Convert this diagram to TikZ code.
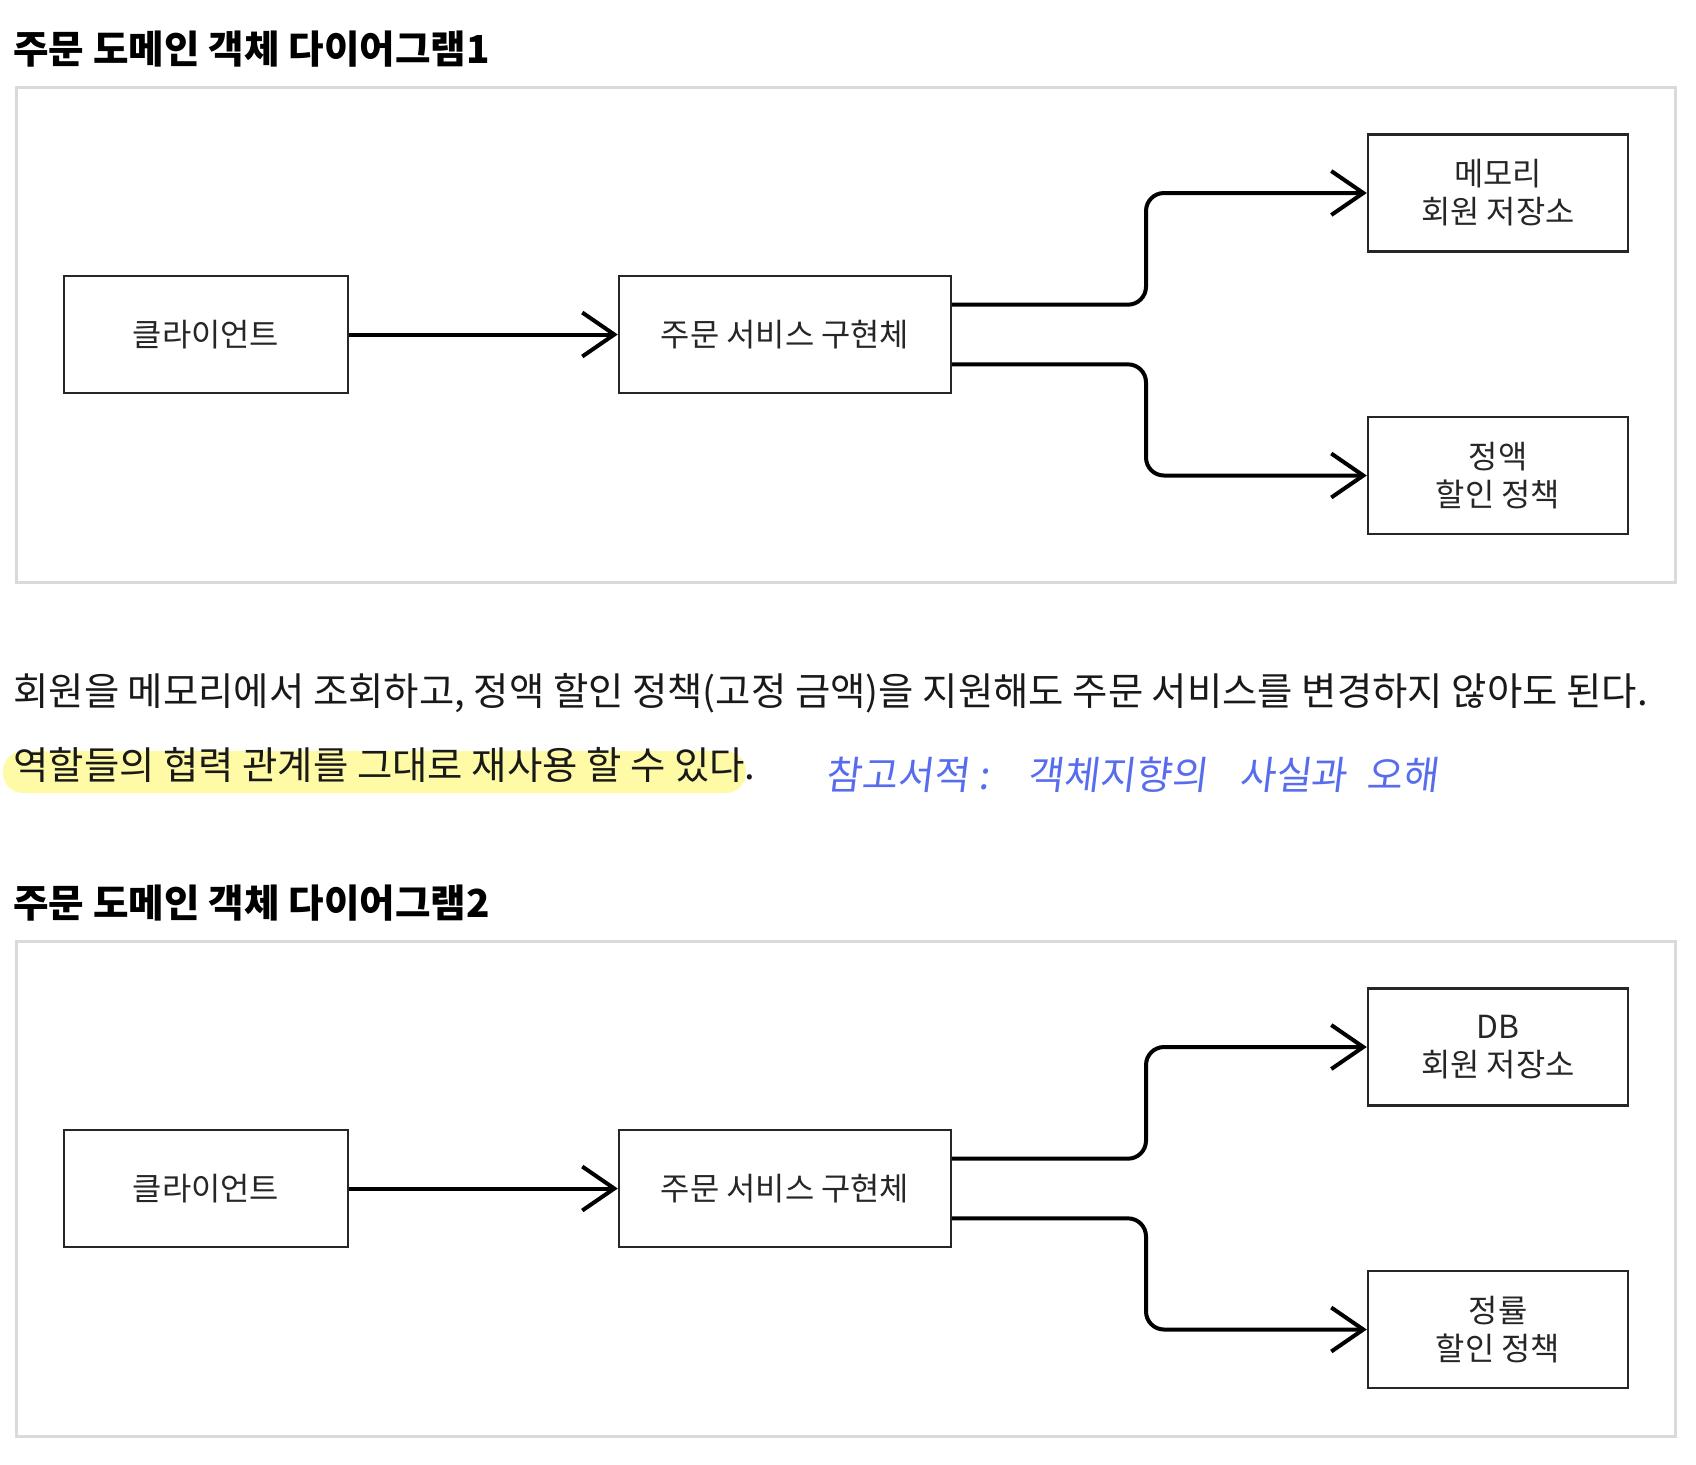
\documentclass[tikz,border=0pt]{standalone}
\usepackage{fontspec}
\setmainfont{Noto Sans CJK KR}
\newfontfamily\handfont[FakeSlant=0.12]{Noto Sans CJK KR}
\usetikzlibrary{arrows.meta,calc}
\definecolor{framegray}{RGB}{218,218,218}
\definecolor{markyellow}{RGB}{255,250,165}
\definecolor{penblue}{RGB}{88,108,238}

\begin{document}
\begin{tikzpicture}[x=0.5pt, y=-0.5pt,
    box/.style={draw=black!85, line width=1.2pt, minimum height=58.5pt, inner sep=0pt,
        align=center, text=black!85, font=\fontsize{15.9}{19}\selectfont},
    flow/.style={line width=2pt, -{Straight Barb[length=16pt, width=22pt]}},
    frame/.style={draw=framegray, line width=1.5pt},
    heading/.style={anchor=west, inner sep=0pt, font=\fontsize{19.3}{23}\selectfont\bfseries},
    para/.style={anchor=west, inner sep=0pt, text=black!90, font=\fontsize{19.2}{23}\selectfont},
    hand/.style={anchor=west, inner sep=0pt, text=penblue, font=\handfont\fontsize{19.5}{23}\selectfont}]
    \useasboundingbox (0,0) rectangle (1696,1464);

    \foreach \k/\off/\repo/\pol in {1/0/메모리/정액, 2/854/DB/정률} {
        % Title and frame
        \node[heading] (title\k) at (13, 49+\off) {주문 도메인 객체 다이어그램\k};
        \draw[frame] (16, 87+\off) rectangle (1675, 582+\off);

        % Boxes
        \node[box, minimum width=142pt] (cl\k) at (206, 334.5+\off) {클라이언트};
        \node[box, minimum width=166pt] (svc\k) at (785, 334.5+\off) {주문 서비스 구현체};
        \node[box, minimum width=130pt] (repo\k) at (1498, 193+\off) {\repo\\회원 저장소};
        \node[box, minimum width=130pt] (pol\k) at (1498, 475.5+\off) {\pol\\할인 정책};

        % Connections
        \coordinate (turn\k) at (1146, \off);
        \draw[flow] (cl\k) -- (svc\k);
        \draw[flow, rounded corners=9pt] ($(svc\k.north east)!0.25!(svc\k.south east)$) coordinate (up\k)
            -- (up\k -| turn\k) |- (repo\k.west);
        \draw[flow, rounded corners=9pt] ($(svc\k.north east)!0.75!(svc\k.south east)$) coordinate (dn\k)
            -- (dn\k -| turn\k) |- (pol\k.west);
    }

    % Text between the diagrams
    \node[para] (line1) at (13, 693) {회원을 메모리에서 조회하고, 정액 할인 정책(고정 금액)을 지원해도 주문 서비스를 변경하지 않아도 된다.};
    \fill[markyellow, rounded corners=10pt] (3, 751) rectangle (746, 793);
    \node[para] (line2) at (13, 765) {역할들의 협력 관계를 그대로 재사용 할 수 있다.};
    \node[hand] (note) at (825, 775) {참고서적\hspace{5pt}:\hspace{19pt}객체지향의\hspace{16pt}사실과\hspace{10pt}오해};
\end{tikzpicture}
\end{document}
